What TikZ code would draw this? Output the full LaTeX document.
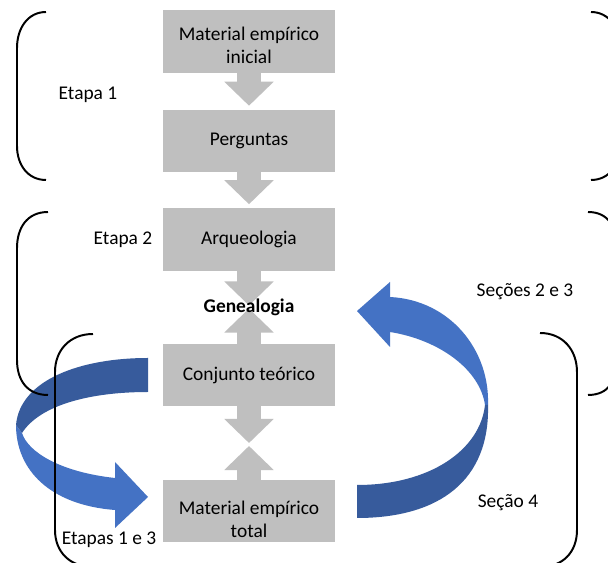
\documentclass[tikz,border=0pt]{standalone}
\usepackage{fontspec}
\setmainfont{Carlito}
\usetikzlibrary{arrows.meta,calc}
\definecolor{boxgray}{HTML}{BFBFBF}
\definecolor{ribbonlight}{HTML}{4472C4}
\definecolor{ribbondark}{HTML}{375B9C}
\tikzset{
	stage/.style={fill=boxgray, minimum width=4.3cm, minimum height=1.55cm, align=center, inner sep=0pt},
	flow/.style={draw=boxgray, line width=0.6cm, -{Triangle[length=0.6cm,width=1.2cm]}},
	brace/.style={line width=1.4pt},
	tag/.style={inner sep=0pt}
}
\begin{document}
\begin{tikzpicture}[x=0.025cm, y=-0.025cm, font=\fontsize{13.8}{16.4}\selectfont]
	\useasboundingbox (0, 0) rectangle (608, 563);
	\clip (0, 0) rectangle (608, 563);
	\fill[white] (0, 0) rectangle (608, 563);
	
	\node[stage] (inicial) at (249, 41.5) {\rule{0pt}{15pt}Material empírico\\inicial};
	\node[stage] (perguntas) at (249, 141) {Perguntas};
	\node[stage] (arqueo) at (249, 239.5) {Arqueologia};
	\node[stage] (conjunto) at (249, 375) {Conjunto teórico};
	\node[stage] (total) at (249, 511) {\rule{0pt}{21pt}Material empírico\\total};
	
	\coordinate (genmeet) at (249, 307);
	\coordinate (cmeet) at (249, 444.5);
	
	\draw[flow] (inicial.south) -- ($(perguntas.north)+(0, -4)$);
	\draw[flow] (perguntas.south) -- ($(arqueo.north)+(0, -4)$);
	\draw[flow] (arqueo.south) -- ($(genmeet)+(0, -1.5)$);
	\draw[flow] (conjunto.north) -- ($(genmeet)+(0, 1.5)$);
	\draw[flow] (conjunto.south) -- ($(cmeet)+(0, -1.5)$);
	\draw[flow] (total.north) -- ($(cmeet)+(0, 1.5)$);
	
	\node[font=\fontsize{13.8}{16.4}\selectfont\bfseries] (gen) at (genmeet) {Genealogia};
	
	% left ribbon, Etapas 1 e 3
	\fill[ribbonlight] (16, 425) .. controls (16, 470) and (50, 505) .. (115, 510)
		-- (115, 528) -- (148, 497) -- (115, 462) -- (115, 478)
		.. controls (60, 472) and (28, 452) .. (22, 433) -- cycle;
	\fill[ribbondark] (148, 358) .. controls (80, 358) and (20, 380) .. (16, 425)
		-- (22, 433) .. controls (40, 405) and (90, 392) .. (148, 392) -- cycle;
	
	% right ribbon, Seções 2 e 3
	\fill[ribbonlight] (488, 405) .. controls (490, 350) and (450, 300) .. (390, 297)
		-- (390, 282) -- (357, 311) -- (390, 347) -- (390, 332)
		.. controls (440, 340) and (480, 370) .. (485, 405) -- cycle;
	\fill[ribbondark] (357, 518) .. controls (440, 518) and (490, 480) .. (488, 405)
		-- (485, 405) .. controls (480, 450) and (430, 485) .. (357, 485) -- cycle;
	
	% Etapa 1
	\draw[brace] (46, 12) .. controls (28, 12) and (17, 28) .. (17, 48) -- (17, 146)
		.. controls (17, 165) and (28, 180) .. (46, 180);
	\draw[brace] (591, 12) .. controls (609, 12) and (620, 28) .. (620, 48) -- (620, 146)
		.. controls (620, 165) and (609, 180) .. (591, 180);
	
	% Etapa 2
	\draw[brace] (48, 212) .. controls (27, 212) and (17, 228) .. (17, 248) -- (17, 360)
		.. controls (17, 380) and (27, 395) .. (48, 395);
	\draw[brace] (588, 212) .. controls (609, 212) and (617, 228) .. (617, 248) -- (617, 360)
		.. controls (617, 380) and (609, 395) .. (588, 395);
	
	% Seção 4
	\draw[brace] (93, 334) .. controls (70, 334) and (55, 350) .. (55, 372) -- (55, 530)
		.. controls (55, 552) and (70, 567) .. (93, 567);
	\draw[brace] (540, 333) .. controls (563, 333) and (577, 350) .. (577, 372) -- (577, 530)
		.. controls (577, 552) and (563, 567) .. (540, 567);
	
	\node[tag] (etapa1) at (88, 95) {Etapa 1};
	\node[tag] (etapa2) at (123, 240) {Etapa 2};
	\node[tag] (secoes) at (525, 292) {Seções 2 e 3};
	\node[tag] (secao4) at (508, 503) {Seção 4};
	\node[tag] (etapas13) at (109, 540) {Etapas 1 e 3};
\end{tikzpicture}
\end{document}
